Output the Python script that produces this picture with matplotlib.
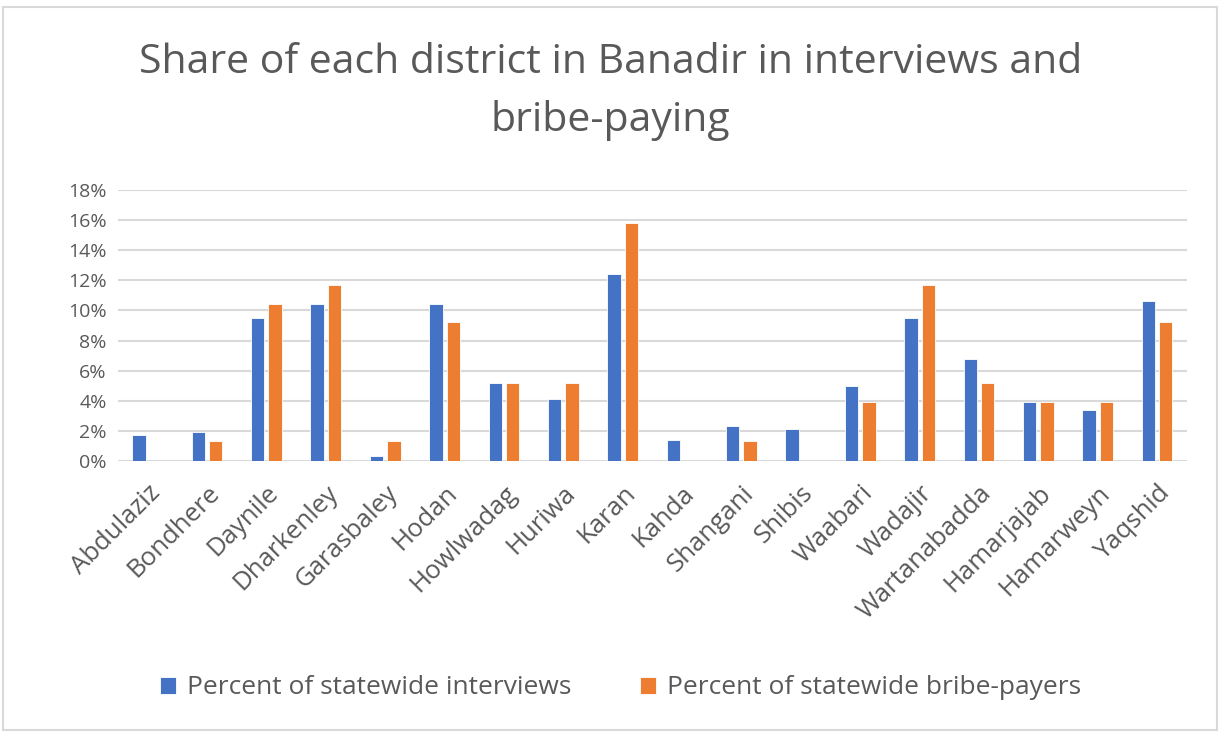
import numpy as np
import matplotlib.pyplot as plt
from matplotlib.patches import Rectangle
from matplotlib.ticker import FuncFormatter

# ------------------------------------------------------------
# Data: district shares (percent)
# ------------------------------------------------------------
districts = ["Abdulaziz", "Bondhere", "Daynile", "Dharkenley", "Garasbaley",
             "Hodan", "Howlwadag", "Huriwa", "Karan", "Kahda", "Shangani",
             "Shibis", "Waabari", "Wadajir", "Wartanabadda", "Hamarjajab",
             "Hamarweyn", "Yaqshid"]

interviews = [1.7, 1.9, 9.5, 10.4, 0.3, 10.4, 5.2, 4.1, 12.4, 1.4, 2.3,
              2.1, 5.0, 9.5, 6.8, 3.9, 3.4, 10.6]

bribe_payers = [0.0, 1.3, 10.4, 11.7, 1.3, 9.2, 5.2, 5.2, 15.8, 0.0, 1.3,
                0.0, 3.9, 11.7, 5.2, 3.9, 3.9, 9.2]

BLUE = "#4472C4"
ORANGE = "#ED7D31"
GREY = "#595959"

plt.rcParams["font.family"] = ["Open Sans", "DejaVu Sans"]

fig = plt.figure(figsize=(12.21, 7.35), dpi=100)
ax = fig.add_axes([0.0966, 0.3728, 0.8754, 0.3687])

# outer chart frame
fig.patches.append(Rectangle((3 / 1221, 5 / 735), 1214 / 1221, 723 / 735,
                             transform=fig.transFigure, fill=False,
                             edgecolor="#D9D9D9", linewidth=1.5))

x = np.arange(len(districts))
w = 0.225
off = 0.146
vals_i = np.array(interviews) / 100
vals_b = np.array(bribe_payers) / 100
ax.bar(x - off, vals_i, w, color=BLUE, edgecolor="white", linewidth=0.6,
       label="Percent of statewide interviews", zorder=3)
ax.bar(x + off, vals_b, w, color=ORANGE, edgecolor="white", linewidth=0.6,
       label="Percent of statewide bribe-payers", zorder=3)

ax.set_xlim(-0.5, len(districts) - 0.5)
ax.set_ylim(0, 0.18)
ax.set_yticks(np.arange(0, 0.181, 0.02))
ax.yaxis.set_major_formatter(FuncFormatter(lambda v, p: f"{v * 100:.0f}%"))
ax.grid(axis="y", color="#D9D9D9", linewidth=1.5, zorder=0)
for s in ax.spines.values():
    s.set_visible(False)
ax.tick_params(axis="y", length=0, colors=GREY, labelsize=14, pad=8)
ax.tick_params(axis="x", length=0, colors=GREY, labelsize=18.5, pad=14)

ax.set_xticks(x)
ax.set_xticklabels(districts, rotation=45, ha="right", rotation_mode="anchor")

fig.text(0.5, 0.915, "Share of each district in Banadir in interviews and",
         ha="center", va="center", fontsize=29.5, color=GREY)
fig.text(0.5, 0.836, "bribe-paying", ha="center", va="center",
         fontsize=29.5, color=GREY)

leg = fig.legend(loc="center", bbox_to_anchor=(0.508, 0.064), ncol=2,
                 frameon=False, fontsize=19, handlelength=0.62,
                 handleheight=0.62, columnspacing=2.6, handletextpad=0.4)
for t in leg.get_texts():
    t.set_color(GREY)

plt.savefig("out.png", dpi=100)
